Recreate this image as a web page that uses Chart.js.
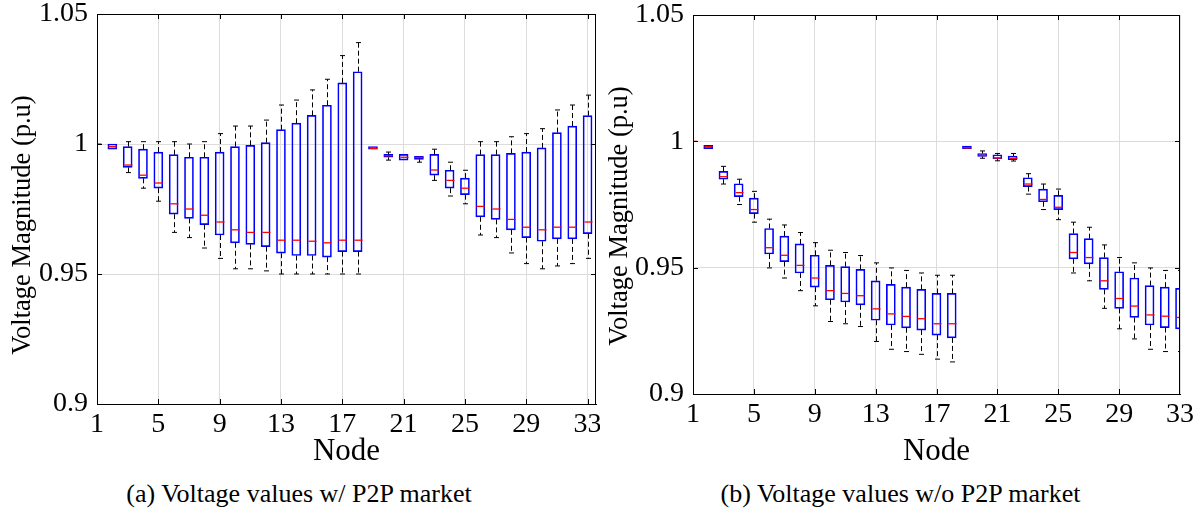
<!DOCTYPE html>
<html>
<head>
<meta charset="utf-8">
<script src="https://cdn.jsdelivr.net/npm/chart.js@4.4.1/dist/chart.umd.min.js"></script>
<style>
  html, body { margin: 0; padding: 0; background: #fff; }
  #wrap { position: relative; width: 1201px; height: 513px; overflow: hidden; }
  .panel { position: absolute; top: 0; }
  .caption {
    position: absolute; top: 479px; text-align: center;
    font-family: "Liberation Serif", "DejaVu Serif", serif; font-size: 26px; color: #000;
  }
</style>
</head>
<body>
<div id="wrap">
  <canvas id="cA" class="panel" width="600" height="470" style="left:0"></canvas>
  <canvas id="cB" class="panel" width="601" height="470" style="left:600px"></canvas>
  <div class="caption" style="left:0;width:598px">(a) Voltage values w/ P2P market</div>
  <div class="caption" style="left:600px;width:601px">(b) Voltage values w/o P2P market</div>
</div>
<script>
// bus numbers of the 33-node feeder
const nodes = [1,2,3,4,5,6,7,8,9,10,11,12,13,14,15,16,17,18,19,20,21,22,23,24,25,26,27,28,29,30,31,32,33];
const xTicks = [1,5,9,13,17,21,25,29,33];
const yTicks = [0.9,0.95,1,1.05];

// (a) with P2P market: whisker ends, quartiles and medians per node
const withMax = [1.0000,1.0000,1.0009,1.0009,1.0009,1.0009,1.0000,1.0009,1.0040,1.0069,1.0069,1.0092,1.0150,1.0169,1.0208,1.0249,1.0340,1.0390,
                 0.9990,0.9969,0.9960,0.9953,0.9980,0.9930,0.9899,1.0009,1.0009,1.0028,1.0040,1.0059,1.0131,1.0150,1.0188];
const withQ3  = [1.0000,1.0000,0.9990,0.9980,0.9969,0.9959,0.9949,0.9949,0.9969,0.9990,0.9995,1.0005,1.0055,1.0080,1.0110,1.0149,1.0235,1.0278,
                 0.9990,0.9960,0.9960,0.9953,0.9960,0.9899,0.9869,0.9959,0.9959,0.9964,0.9969,0.9985,1.0044,1.0069,1.0109];
const withMed = [1.0000,0.9990,0.9919,0.9880,0.9850,0.9770,0.9750,0.9726,0.9700,0.9670,0.9660,0.9660,0.9630,0.9630,0.9626,0.9620,0.9630,0.9630,
                 0.9983,0.9955,0.9949,0.9948,0.9900,0.9860,0.9830,0.9760,0.9750,0.9710,0.9680,0.9670,0.9680,0.9680,0.9700];
const withQ1  = [1.0000,0.9980,0.9910,0.9868,0.9830,0.9730,0.9714,0.9690,0.9650,0.9620,0.9614,0.9605,0.9580,0.9571,0.9571,0.9565,0.9586,0.9586,
                 0.9980,0.9949,0.9938,0.9941,0.9880,0.9830,0.9805,0.9720,0.9710,0.9670,0.9640,0.9626,0.9635,0.9635,0.9655];
const withMin = [1.0000,0.9980,0.9890,0.9830,0.9780,0.9660,0.9640,0.9600,0.9560,0.9520,0.9520,0.9512,0.9500,0.9500,0.9500,0.9500,0.9500,0.9500,
                 0.9980,0.9938,0.9938,0.9930,0.9860,0.9800,0.9770,0.9650,0.9640,0.9581,0.9540,0.9520,0.9531,0.9540,0.9560];

// (b) without P2P market
const withoutMax = [1.0000,0.9984,0.9901,0.9850,0.9802,0.9692,0.9669,0.9639,0.9599,0.9569,0.9560,0.9548,0.9519,0.9499,0.9489,0.9479,0.9470,0.9470,
                    0.9981,0.9962,0.9952,0.9952,0.9872,0.9831,0.9811,0.9680,0.9660,0.9590,0.9540,0.9519,0.9499,0.9489,0.9489];
const withoutQ3  = [1.0000,0.9984,0.9881,0.9832,0.9775,0.9655,0.9625,0.9594,0.9549,0.9509,0.9504,0.9493,0.9448,0.9434,0.9423,0.9414,0.9398,0.9398,
                    0.9981,0.9952,0.9947,0.9942,0.9856,0.9811,0.9786,0.9635,0.9615,0.9540,0.9484,0.9459,0.9429,0.9423,0.9418];
const withoutMed = [1.0000,0.9979,0.9860,0.9797,0.9730,0.9579,0.9549,0.9509,0.9459,0.9409,0.9398,0.9389,0.9337,0.9317,0.9307,0.9298,0.9278,0.9278,
                    0.9974,0.9944,0.9934,0.9933,0.9831,0.9770,0.9739,0.9560,0.9540,0.9448,0.9378,0.9348,0.9313,0.9308,0.9303];
const withoutQ1  = [1.0000,0.9971,0.9850,0.9781,0.9714,0.9554,0.9524,0.9479,0.9423,0.9373,0.9364,0.9353,0.9292,0.9273,0.9262,0.9253,0.9233,0.9222,
                    0.9971,0.9940,0.9931,0.9927,0.9821,0.9761,0.9730,0.9535,0.9515,0.9414,0.9339,0.9303,0.9273,0.9263,0.9258];
const withoutMin = [1.0000,0.9971,0.9831,0.9750,0.9680,0.9499,0.9459,0.9409,0.9349,0.9287,0.9278,0.9267,0.9208,0.9177,0.9168,0.9157,0.9138,0.9127,
                    0.9971,0.9933,0.9923,0.9922,0.9791,0.9730,0.9690,0.9479,0.9448,0.9339,0.9258,0.9218,0.9177,0.9168,0.9168];

const SERIF = '"Liberation Serif", "DejaVu Serif", serif';
const BOX_BLUE = '#0000ff';
const GRID = '#dcdcdc';
const Y_TITLE = 'Voltage Magnitude (p.u)';

// whiskers, caps and medians on top of the floating-bar boxes
function whiskerPlugin(st){
  return {
    id: 'whiskers',
    afterDatasetsDraw(chart){
      const {ctx, chartArea:a, scales:{x, y}} = chart;
      ctx.save();
      ctx.beginPath(); ctx.rect(a.left, a.top, a.right-a.left, a.bottom-a.top); ctx.clip();
      nodes.forEach((n, i)=>{
        const px = Math.round(x.getPixelForValue(n))+0.5;
        const yMax = y.getPixelForValue(st.max[i]), yQ3 = y.getPixelForValue(st.q3[i]);
        const yQ1 = y.getPixelForValue(st.q1[i]), yMin = y.getPixelForValue(st.min[i]);
        const yMed = y.getPixelForValue(st.med[i]);
        ctx.strokeStyle = '#000'; ctx.lineWidth = 1;
        ctx.setLineDash([5,3]);
        ctx.beginPath();
        if (yQ3 - yMax > 0.5){ ctx.moveTo(px, yQ3); ctx.lineTo(px, yMax); }
        if (yMin - yQ1 > 0.5){ ctx.moveTo(px, yQ1); ctx.lineTo(px, yMin); }
        ctx.stroke();
        ctx.setLineDash([]);
        ctx.beginPath();
        if (yQ3 - yMax > 0.5){ ctx.moveTo(px-2.5, yMax); ctx.lineTo(px+2.5, yMax); }
        if (yMin - yQ1 > 0.5){ ctx.moveTo(px-2.5, yMin); ctx.lineTo(px+2.5, yMin); }
        ctx.stroke();
        ctx.strokeStyle = '#ff0000'; ctx.lineWidth = 1.3;
        ctx.beginPath(); ctx.moveTo(px-4, yMed); ctx.lineTo(px+4, yMed); ctx.stroke();
      });
      ctx.restore();
    }
  };
}

// closed axes box with short inward ticks, plus the rotated y label
function framePlugin(titleX, titleY){
  return {
    id: 'frame',
    afterDraw(chart){
      const {ctx, chartArea:a, scales:{x, y}} = chart;
      ctx.save();
      ctx.strokeStyle = '#000'; ctx.lineWidth = 1;
      ctx.strokeRect(a.left+0.5, a.top+0.5, a.right-a.left-1, a.bottom-a.top);
      ctx.beginPath();
      xTicks.forEach(v=>{
        const px = Math.round(x.getPixelForValue(v))+0.5;
        if (px < a.left+1 || px > a.right-1) return;
        ctx.moveTo(px, a.bottom); ctx.lineTo(px, a.bottom-5);
        ctx.moveTo(px, a.top); ctx.lineTo(px, a.top+5);
      });
      yTicks.forEach(v=>{
        const py = Math.round(y.getPixelForValue(v))+0.5;
        ctx.moveTo(a.left, py); ctx.lineTo(a.left+5, py);
        ctx.moveTo(a.right, py); ctx.lineTo(a.right-5, py);
      });
      ctx.stroke();

      ctx.translate(titleX, titleY);
      ctx.rotate(-Math.PI/2);
      ctx.fillStyle = '#000';
      ctx.font = '26.5px ' + SERIF;
      ctx.textAlign = 'center';
      ctx.textBaseline = 'middle';
      ctx.fillText(Y_TITLE, 0, 0);
      ctx.restore();
    }
  };
}

function drawPanel(id, st, xMax, pad){
  new Chart(document.getElementById(id), {
    type: 'bar',
    data: {
      datasets: [{
        data: nodes.map((n, i)=>({x: n, y: [st.q1[i], st.q3[i]]})),
        backgroundColor: 'rgba(0,0,0,0)',
        borderColor: BOX_BLUE,
        borderWidth: 1,
        borderSkipped: false,
        barThickness: 9
      }]
    },
    options: {
      responsive: false,
      animation: false,
      layout: { padding: { top: pad.top, right: pad.right, bottom: 0, left: 0 } },
      plugins: { legend: { display: false }, tooltip: { enabled: false } },
      scales: {
        x: {
          type: 'linear', min: 1, max: xMax, offset: false,
          afterBuildTicks: s=>{ s.ticks = xTicks.map(v=>({value: v})); },
          afterFit: s=>{ s.height = 470 - pad.axisBottom; s.paddingLeft = 0; s.paddingRight = 0; },
          grid: { color: GRID, drawTicks: false, offset: false },
          border: { color: '#000', width: 1 },
          ticks: { color: '#000', padding: 4, maxRotation: 0, autoSkip: false, font: { family: SERIF, size: 28 } },
          title: { display: true, text: 'Node', color: '#000', padding: 0, font: { family: SERIF, size: 31 } }
        },
        y: {
          min: 0.9, max: 1.05,
          afterBuildTicks: s=>{ s.ticks = yTicks.map(v=>({value: v})); },
          afterFit: s=>{ s.width = pad.axisLeft; s.paddingTop = 0; s.paddingBottom = 0; },
          grid: { color: GRID, drawTicks: false },
          border: { color: '#000', width: 1 },
          ticks: { color: '#000', padding: 9, callback: v=>String(v), font: { family: SERIF, size: 28 } }
        }
      }
    },
    plugins: [whiskerPlugin(st), framePlugin(pad.titleX, pad.titleY)]
  });
}

drawPanel('cA', { max: withMax, q3: withQ3, med: withMed, q1: withQ1, min: withMin }, 33.55,
  { top: 14, right: 4, axisLeft: 97, axisBottom: 404, titleX: 23, titleY: 225 });
drawPanel('cB', { max: withoutMax, q3: withoutQ3, med: withoutMed, q1: withoutQ1, min: withoutMin }, 33,
  { top: 15, right: 21, axisLeft: 93, axisBottom: 394, titleX: 20, titleY: 216 });
</script>
</body>
</html>
